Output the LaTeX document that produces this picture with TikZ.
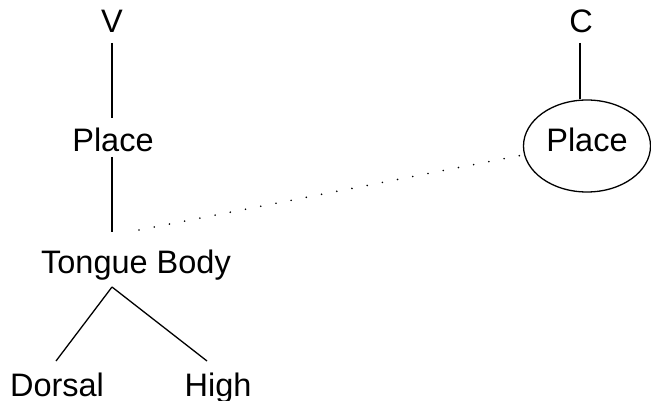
\documentclass[tikz,border=0pt]{standalone}
\usepackage{fontspec}
\setmainfont{Liberation Sans}
\usetikzlibrary{shapes.geometric}
\begin{document}
\begin{tikzpicture}[x=1pt,y=-1pt,
  lbl/.style={inner sep=0pt, anchor=base, font=\fontsize{32.5}{38}\selectfont},
  branch/.style={line width=1.3pt},
  link/.style={line width=1.8pt, line cap=round, dash pattern=on 0pt off 15.5pt},
  circled/.style={ellipse, draw, line width=1.3pt, inner sep=0pt,
    minimum width=127pt, minimum height=92pt,
    text height=23pt, text depth=11pt, font=\fontsize{32.5}{38}\selectfont}]
  \useasboundingbox (0,0) rectangle (651,401);

  % vowel tree
  \node[lbl] (V)  at (112,33)  {V};
  \node[lbl] (P1) at (113,152) {Place};
  \node[lbl] (TB) at (136,273) {Tongue Body};
  \node[lbl] (D)  at (57,396)  {Dorsal};
  \node[lbl] (H)  at (218,396) {High};

  % consonant with circled place node
  \node[lbl] (C)  at (581,33)  {C};
  \node[circled] (P2) at (587,146) {Place};

  \draw[branch] ([yshift=-10pt]V.base) -- ([xshift=-1pt,yshift=34pt]P1.base);
  \draw[branch] ([xshift=-1pt,yshift=-5pt]P1.base) -- ([xshift=-24pt,yshift=41pt]TB.base);
  \draw[branch] ([xshift=-24pt,yshift=-14pt]TB.base) -- ([xshift=-1pt,yshift=35pt]D.base);
  \draw[branch] ([xshift=-24pt,yshift=-14pt]TB.base) -- ([xshift=-11pt,yshift=35pt]H.base);
  \draw[branch] ([xshift=-1pt,yshift=-10pt]C.base) -- ([xshift=-7pt]P2.north);

  % spreading link
  \draw[link] ([xshift=3pt,yshift=43pt]TB.base) -- ([yshift=-9pt]P2.west);
\end{tikzpicture}
\end{document}
